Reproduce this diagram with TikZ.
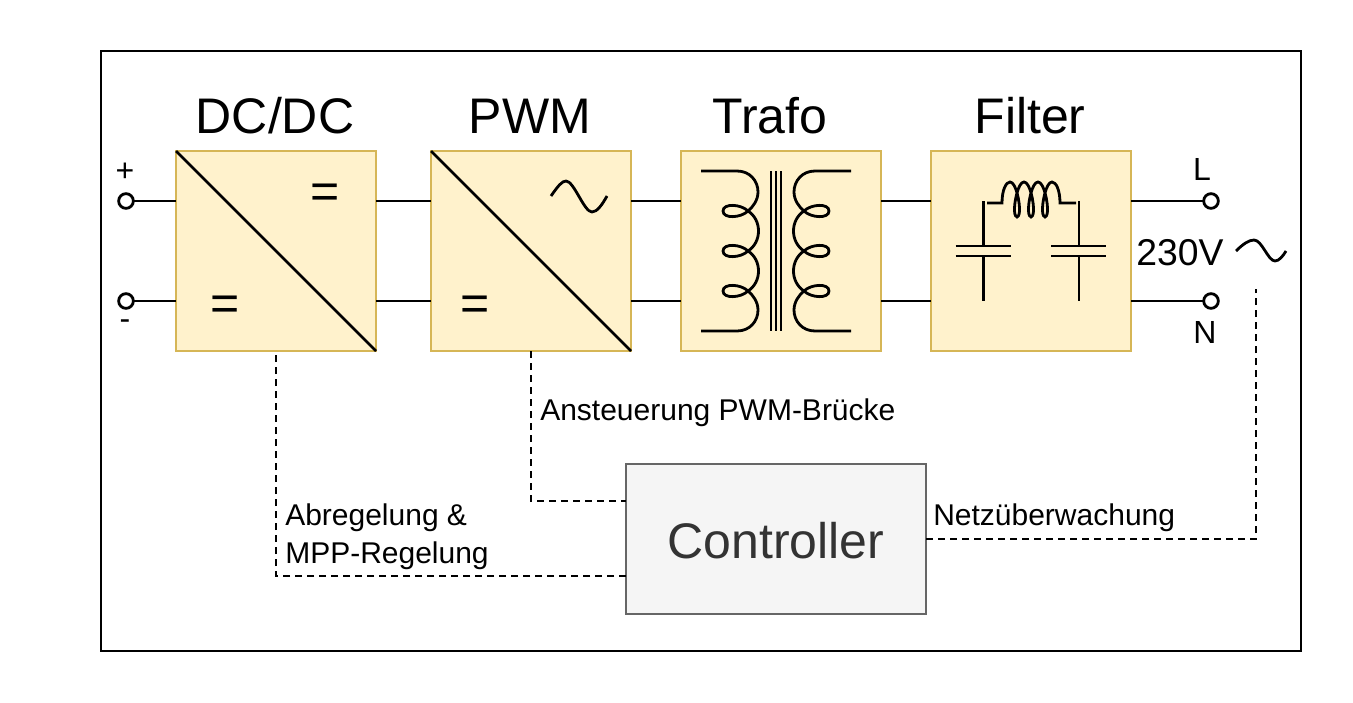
\documentclass[tikz,border=0pt]{standalone}
\usepackage{fontspec}
\setmainfont{Liberation Sans}
\usepackage{xcolor}
\usetikzlibrary{calc}

\definecolor{blockfill}{HTML}{FFF2CC}
\definecolor{blockline}{HTML}{D6B656}
\definecolor{ctrlfill}{HTML}{F5F5F5}
\definecolor{ctrlline}{HTML}{666666}
\definecolor{ctrltext}{HTML}{333333}

\tikzset{
    wire/.style={line width=2.1pt},
    signal/.style={line width=2.2pt, dash pattern=on 5pt off 4pt},
    block/.style={draw=blockline, fill=blockfill, line width=2.2pt, minimum size=150pt, inner sep=0pt, outer sep=0pt},
    ctrlbox/.style={draw=ctrlline, fill=ctrlfill, text=ctrltext, line width=2.2pt, minimum width=225pt, minimum height=112.5pt, inner sep=0pt, outer sep=0pt, text height=30pt, text depth=0.5pt, font=\fontsize{37.5}{45}\selectfont},
    terminal/.style={circle, draw, fill=white, line width=2.1pt, minimum size=11pt, inner sep=0pt, outer sep=0pt},
    title/.style={inner sep=0pt, font=\fontsize{37.5}{45}\selectfont},
    symb/.style={inner sep=0pt, font=\fontsize{37.5}{45}\selectfont},
    pinlabel/.style={inner sep=0pt, font=\fontsize{24}{28}\selectfont},
    siglabel/.style={inner sep=0pt, anchor=west, align=left, font=\fontsize{22.5}{28.5}\selectfont}
}

\begin{document}
\begin{tikzpicture}[x=0.75pt, y=-0.75pt]
    \useasboundingbox (0,0) rectangle (1353,703);
    \draw[line width=2.2pt] (101,51) rectangle (1301,651);

    % blocks
    \node[block] (dcdc) at (276,251) {};
    \node[block] (pwm) at (531,251) {};
    \node[block] (trafo) at (781,251) {};
    \node[block] (filter) at (1031,251) {};
    \node[ctrlbox] (ctrl) at (776,539) {Controller};

    \node[title] (tdcdc) at (275,116) {DC/DC};
    \node[title] (tpwm) at (530,116) {PWM};
    \node[title] (ttrafo) at (770,116) {Trafo};
    \node[title] (tfilter) at (1030,116) {Filter};

    % terminals
    \node[terminal] (plus) at (126,201) {};
    \node[terminal] (minus) at (126,301) {};
    \node[terminal] (line) at (1211,201) {};
    \node[terminal] (neutral) at (1211,301) {};
    \node[pinlabel] (lplus) at (125,172) {+};
    \node[pinlabel] (lminus) at (125,325) {-};
    \node[pinlabel] (lline) at (1202,169) {L};
    \node[pinlabel] (lneutral) at (1205,332) {N};
    \node[inner sep=0pt, font=\fontsize{28}{34}\selectfont] (volt) at (1180,252.5) {230V};

    % power path
    \foreach \y/\t in {plus/line, minus/neutral} {
        \draw[wire] (\y) -- (dcdc.west |- \y);
        \draw[wire] (dcdc.east |- \y) -- (pwm.west |- \y);
        \draw[wire] (pwm.east |- \y) -- (trafo.west |- \y);
        \draw[wire] (trafo.east |- \y) -- (filter.west |- \y);
        \draw[wire] (filter.east |- \y) -- (\t);
    }

    % converter symbols
    \draw[wire] (dcdc.north west) -- (dcdc.south east);
    \draw[wire] (pwm.north west) -- (pwm.south east);
    \node[symb] (dcout) at (325,196) {=};
    \node[symb] (dcin) at (225,308) {=};
    \node[symb] (pwmin) at (475,308) {=};
    \draw[wire] (551,196) .. controls (558,186) and (562,181) .. (566,181) .. controls (574,181) and (584,212) .. (592,212) .. controls (597,212) and (602,205) .. (607,196);
    \draw[wire] (1236,251) .. controls (1243,244) and (1249,240) .. (1254,240) .. controls (1262,240) and (1268,261) .. (1275,261) .. controls (1279,261) and (1283,256) .. (1286,251);

    % transformer
    \foreach \x in {771,776,781} {
        \draw[wire] (\x,171) -- (\x,331);
    }
    \foreach \s in {1,-1} {
        \begin{scope}[shift={(776,0)}, xscale=\s]
            \draw[wire] (-75,171) -- (-39,171) .. controls (-26,171) and (-18,181) .. (-18,192) .. controls (-18,200) and (-23,207) .. (-28,211);
            \foreach \c in {211,251,291} {
                \draw[wire] (-28,\c) .. controls (-35,\c-7) and (-53,\c-8) .. (-53,\c) .. controls (-53,\c+8) and (-35,\c+7) .. (-28,\c);
            }
            \draw[wire] (-28,211) .. controls (-14,220) and (-14,242) .. (-28,251);
            \draw[wire] (-28,251) .. controls (-14,260) and (-14,282) .. (-28,291);
            \draw[wire] (-28,291) .. controls (-23,295) and (-18,302) .. (-18,310) .. controls (-18,321) and (-26,331) .. (-39,331) -- (-75,331);
        \end{scope}
    }

    % filter
    \foreach \x in {983.5,1079} {
        \draw[wire] (\x,201) -- (\x,246);
        \draw[wire] (\x-28,246) -- (\x+27,246);
        \draw[wire] (\x-28,256) -- (\x+27,256);
        \draw[wire] (\x,256) -- (\x,301);
    }
    \draw[wire] (987,203) -- (1002,203) .. controls (1002,190) and (1006,182) .. (1010,182) .. controls (1016,182) and (1020,203) .. (1019.5,211) .. controls (1019,219) and (1015,219) .. (1014.5,211) .. controls (1014,203) and (1018,182) .. (1024,182) .. controls (1030,182) and (1034,203) .. (1033.5,211) .. controls (1033,219) and (1029,219) .. (1028.5,211) .. controls (1028,203) and (1032,182) .. (1038,182) .. controls (1044,182) and (1048,203) .. (1047.5,211) .. controls (1047,219) and (1043,219) .. (1042.5,211) .. controls (1042,203) and (1046,182) .. (1052,182) .. controls (1056,182) and (1060,190) .. (1060,203) -- (1076,203);

    % control signals
    \coordinate (sense) at (1256,289);
    \draw[signal] (ctrl.west |- 0,576) -| (dcdc.south);
    \draw[signal] (pwm.south) |- (ctrl.west |- 0,501);
    \draw[signal] (ctrl.east) -| (sense);
    \node[siglabel] (lpwm) at (540,413) {Ansteuerung PWM-Brücke};
    \node[siglabel] (lmpp) at (285,537) {Abregelung \&\\MPP-Regelung};
    \node[siglabel] (lnetz) at (933,518) {Netzüberwachung};
\end{tikzpicture}
\end{document}
